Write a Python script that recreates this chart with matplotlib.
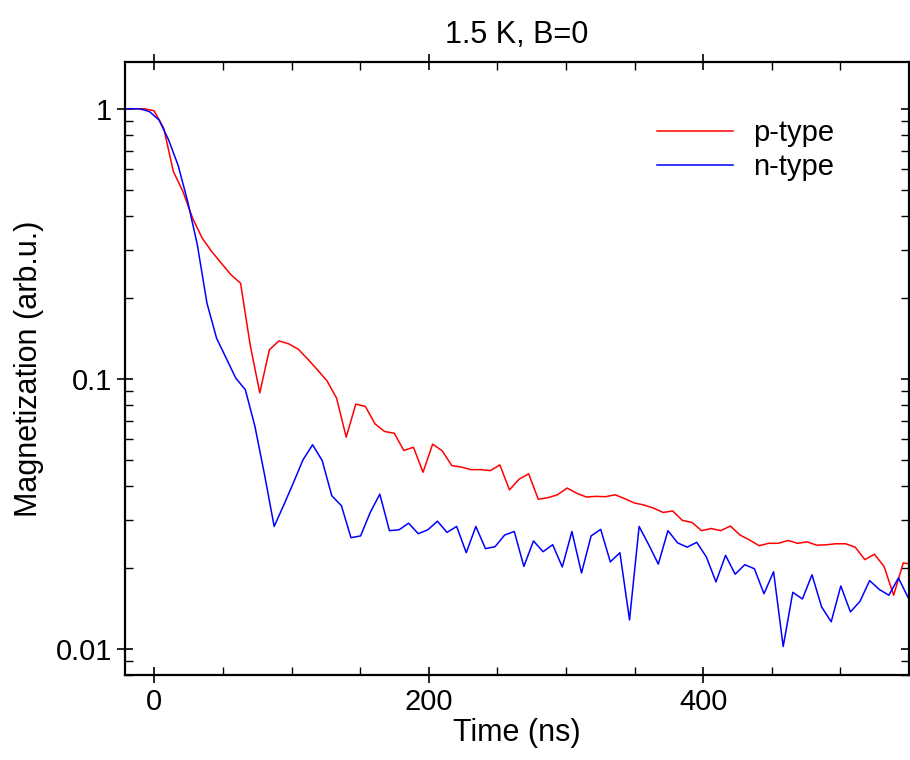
import numpy as np
import matplotlib
matplotlib.use("Agg")
import matplotlib.pyplot as plt
from matplotlib.ticker import LogLocator, MultipleLocator, FixedLocator, NullFormatter

plt.rcParams['font.family'] = ['Liberation Sans', 'DejaVu Sans']

# sample times (ns), 7 ns step; the two data sets are offset by half a step
t_n = np.round(-17.7 + 7 * np.arange(-1, 82), 1)
t_p = np.round(-14.2 + 7 * np.arange(-1, 82), 1)

n_type = [1.0, 1.0, 1.0, 0.977, 0.911, 0.768, 0.617, 0.453, 0.3134, 0.1907, 0.1415,
          0.1193, 0.1006, 0.0911, 0.0666, 0.0441, 0.0284, 0.0341, 0.0412, 0.0501, 0.0570,
          0.0498, 0.0369, 0.0339, 0.0258, 0.0262, 0.0320, 0.0374, 0.0274, 0.0276, 0.0292,
          0.0267, 0.0276, 0.0297, 0.0270, 0.0284, 0.0227, 0.0284, 0.0235, 0.0239, 0.0264,
          0.0272, 0.0202, 0.0251, 0.0229, 0.0243, 0.0201, 0.0272, 0.0191, 0.0262, 0.0277,
          0.0210, 0.0227, 0.0128, 0.0284, 0.0243, 0.0206, 0.0274, 0.0247, 0.0238, 0.0248,
          0.0219, 0.0177, 0.0222, 0.0189, 0.0205, 0.0198, 0.0160, 0.0193, 0.0102, 0.0162,
          0.0153, 0.0188, 0.0143, 0.0126, 0.0171, 0.0137, 0.0150, 0.0179, 0.0166, 0.0158,
          0.0183, 0.0155]

p_type = [1.0, 1.0, 1.0, 0.983, 0.848, 0.586, 0.494, 0.394, 0.332, 0.296, 0.268,
          0.243, 0.226, 0.1336, 0.0887, 0.1281, 0.1382, 0.1348, 0.1288, 0.1183, 0.1080,
          0.0983, 0.0848, 0.0608, 0.0806, 0.0790, 0.0681, 0.0638, 0.0629, 0.0543, 0.0558,
          0.0451, 0.0573, 0.0541, 0.0477, 0.0471, 0.0461, 0.0461, 0.0457, 0.0480, 0.0388,
          0.0425, 0.0445, 0.0358, 0.0363, 0.0372, 0.0394, 0.0377, 0.0365, 0.0367, 0.0366,
          0.0372, 0.0360, 0.0347, 0.0341, 0.0332, 0.0320, 0.0324, 0.0299, 0.0294, 0.0274,
          0.0279, 0.0274, 0.0285, 0.0264, 0.0253, 0.0241, 0.0246, 0.0246, 0.0252, 0.0246,
          0.0249, 0.0242, 0.0243, 0.0245, 0.0245, 0.0238, 0.0214, 0.0224, 0.0202, 0.0158,
          0.0208, 0.0206]

fig = plt.figure(figsize=(9.1, 7.6), dpi=100)
ax = fig.add_axes([0.1374, 0.1118, 0.8615, 0.8066])

ax.plot(t_p, p_type, color='#ff0000', lw=1.1, label='p-type')
ax.plot(t_n, n_type, color='#0000ff', lw=1.1, label='n-type')

ax.set_yscale('log')
ax.set_xlim(-21.4, 550)
ax.set_ylim(0.0080, 1.49)

ax.xaxis.set_major_locator(FixedLocator([0, 200, 400]))
ax.xaxis.set_minor_locator(MultipleLocator(50))
ax.yaxis.set_major_locator(FixedLocator([0.01, 0.1, 1]))
ax.yaxis.set_minor_locator(LogLocator(base=10, subs=np.arange(2, 10)))
ax.yaxis.set_minor_formatter(NullFormatter())
ax.set_yticklabels(['0.01', '0.1', '1'])

ax.tick_params(which='major', direction='inout', length=12, width=1.2,
               top=True, right=True, labelsize=21)
ax.tick_params(which='minor', direction='in', length=6, width=1.0,
               top=True, right=True)
for s in ax.spines.values():
    s.set_linewidth(1.6)

ax.set_xlabel('Time (ns)', fontsize=22, labelpad=1)
ax.set_ylabel('Magnetization (arb.u.)', fontsize=22, labelpad=8)
ax.set_title('1.5 K, B=0', fontsize=22, pad=14)

ax.legend(loc='upper left', bbox_to_anchor=(657 / 910, 1 - 119 / 760),
          bbox_transform=fig.transFigure, frameon=False, fontsize=21,
          handlelength=2.6, handletextpad=0.7, labelspacing=0.2,
          borderpad=0, borderaxespad=0)

fig.savefig('out.png', dpi=100)
